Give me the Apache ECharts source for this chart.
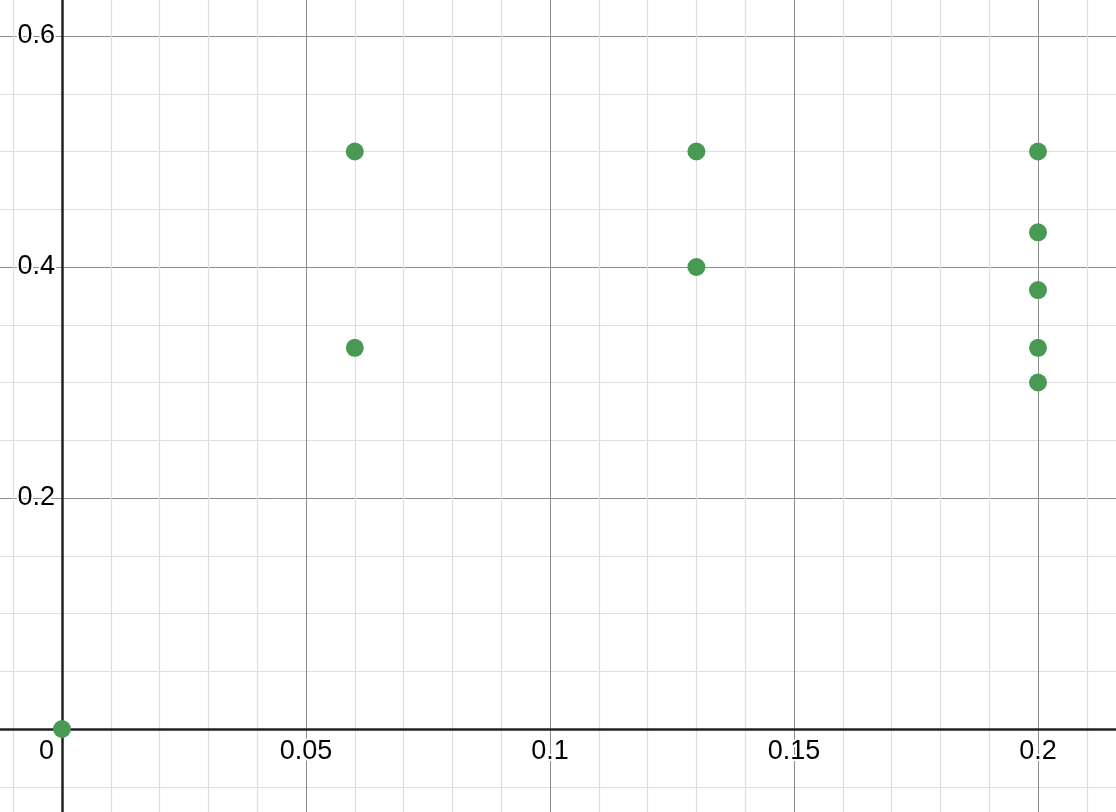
<!DOCTYPE html>
<html>
<head>
<meta charset="utf-8">
<style>
  html, body { margin: 0; padding: 0; background: #fff; }
  #chart { width: 1116px; height: 812px; }
</style>
<script src="https://cdn.jsdelivr.net/npm/echarts@6/dist/echarts.min.js"></script>
</head>
<body>
<div id="chart"></div>
<script>
// Data
const xValues = [0, 0.06, 0.06, 0.13, 0.13, 0.2, 0.2, 0.2, 0.2, 0.2];
const yValues = [0, 0.5, 0.33, 0.5, 0.4, 0.5, 0.43, 0.38, 0.33, 0.3];
const xTickLabels = ['0.05', '0.1', '0.15', '0.2'];
const yTickLabels = ['0.2', '0.4', '0.6'];
const originLabel = '0';

const points = xValues.map((x, i) => [x, yValues[i]]);
const FONT = '"Liberation Sans", Arial, Helvetica, sans-serif';

const chart = echarts.init(document.getElementById('chart'), null, { renderer: 'canvas' });

const option = {
  animation: false,
  backgroundColor: '#fff',
  grid: {
    left: -182, right: -166, top: -195, bottom: -148,
    containLabel: false,
    outerBoundsMode: 'none'
  },
  xAxis: {
    type: 'value',
    min: -0.05,
    max: 0.25,
    interval: 0.05,
    axisLine: { show: true, onZero: true, lineStyle: { color: '#222', width: 2.5 } },
    axisTick: { show: false },
    minorTick: { show: false, splitNumber: 5 },
    splitLine: { show: true, lineStyle: { color: '#8c8c8c', width: 1 } },
    minorSplitLine: { show: true, lineStyle: { color: '#dedede', width: 1.2 } },
    axisLabel: { show: false }
  },
  yAxis: {
    type: 'value',
    min: -0.2,
    max: 0.8,
    interval: 0.2,
    axisLine: { show: true, onZero: true, lineStyle: { color: '#222', width: 2.5 } },
    axisTick: { show: false },
    minorTick: { show: false, splitNumber: 4 },
    splitLine: { show: true, lineStyle: { color: '#8c8c8c', width: 1 } },
    minorSplitLine: { show: true, lineStyle: { color: '#dedede', width: 1.2 } },
    axisLabel: { show: false }
  },
  series: [{
    type: 'scatter',
    data: points,
    symbol: 'circle',
    symbolSize: 18,
    itemStyle: { color: '#479953', opacity: 1 },
    z: 5,
    clip: false
  }]
};

chart.setOption(option);

// Tick labels placed through the chart's own scales, Desmos-style (near the axes)
const textStyle = (text, align, vAlign) => ({
  text: text, align: align, verticalAlign: vAlign,
  fill: '#000', font: '27px ' + FONT, stroke: '#fff', lineWidth: 4
});
const graphics = [];
const o = chart.convertToPixel({ gridIndex: 0 }, [0, 0]);
xTickLabels.forEach(t => {
  const p = chart.convertToPixel({ gridIndex: 0 }, [parseFloat(t), 0]);
  graphics.push({ type: 'text', x: p[0], y: o[1] + 9, z: 10, style: textStyle(t, 'center', 'top') });
});
yTickLabels.forEach(t => {
  const p = chart.convertToPixel({ gridIndex: 0 }, [0, parseFloat(t)]);
  graphics.push({ type: 'text', x: o[0] - 7, y: p[1], z: 10, style: textStyle(t, 'right', 'middle') });
});
graphics.push({ type: 'text', x: o[0] - 8, y: o[1] + 9, z: 10, style: textStyle(originLabel, 'right', 'top') });
chart.setOption({ graphic: graphics });
</script>
</body>
</html>
